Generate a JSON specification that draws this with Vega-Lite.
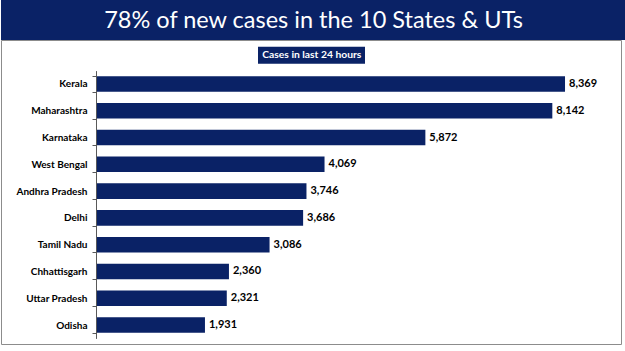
{
  "$schema": "https://vega.github.io/schema/vega-lite/v6.json",
  "padding": 0,
  "background": "white",
  "spacing": 0,
  "bounds": "flush",
  "config": {"view": {"stroke": null}, "font": "Lato"},
  "vconcat": [
    {
      "width": 625,
      "height": 40,
      "view": {"fill": "#0a2266", "stroke": null},
      "data": {"values": [{"heading": "78% of new cases in the 10 States & UTs"}]},
      "mark": {"type": "text", "color": "white", "fontSize": 23.5, "font": "Lato", "baseline": "middle", "align": "center", "dy": 1},
      "encoding": {"text": {"field": "heading"}}
    },
    {
      "width": 620,
      "height": 304,
      "view": {"fill": "white", "stroke": "#8c8c8c", "strokeWidth": 1},
      "data": {
        "values": [
          {"state": "Kerala", "cases": 8369, "series": "Cases in last 24 hours"},
          {"state": "Maharashtra", "cases": 8142, "series": "Cases in last 24 hours"},
          {"state": "Karnataka", "cases": 5872, "series": "Cases in last 24 hours"},
          {"state": "West Bengal", "cases": 4069, "series": "Cases in last 24 hours"},
          {"state": "Andhra Pradesh", "cases": 3746, "series": "Cases in last 24 hours"},
          {"state": "Delhi", "cases": 3686, "series": "Cases in last 24 hours"},
          {"state": "Tamil Nadu", "cases": 3086, "series": "Cases in last 24 hours"},
          {"state": "Chhattisgarh", "cases": 2360, "series": "Cases in last 24 hours"},
          {"state": "Uttar Pradesh", "cases": 2321, "series": "Cases in last 24 hours"},
          {"state": "Odisha", "cases": 1931, "series": "Cases in last 24 hours"}
        ]
      },
      "encoding": {
        "y": {
          "field": "state",
          "type": "nominal",
          "sort": null,
          "scale": {"range": [30.6, 298.4], "paddingInner": 0.42, "paddingOuter": 0.21},
          "axis": {
            "orient": "left",
            "offset": -95,
            "title": null,
            "tickBand": "extent",
            "tickSize": 4,
            "tickColor": "#595959",
            "domainColor": "#595959",
            "labelPadding": 5,
            "labelFont": "Lato",
            "labelFontWeight": "bold",
            "labelFontSize": 10,
            "labelColor": "black",
            "grid": false
          }
        },
        "x": {
          "field": "cases",
          "type": "quantitative",
          "stack": null,
          "scale": {"domain": [-1716, 9370], "nice": false},
          "axis": null
        }
      },
      "layer": [
        {
          "mark": {"type": "bar"},
          "encoding": {
            "color": {
              "field": "series",
              "type": "nominal",
              "scale": {"range": ["#0a2266"]},
              "legend": {
                "orient": "none",
                "legendX": 257,
                "legendY": 46.7,
                "title": null,
                "fillColor": "#0a2266",
                "strokeColor": null,
                "padding": 3,
                "symbolSize": 0,
                "symbolStrokeWidth": 0,
                "symbolOpacity": 0,
                "labelOffset": -9,
                "labelColor": "white",
                "labelFont": "Lato",
                "labelFontWeight": "bold",
                "labelFontSize": 10.3
              }
            }
          }
        },
        {
          "mark": {"type": "text", "align": "left", "baseline": "middle", "dx": 4, "fontWeight": "bold", "fontSize": 11, "color": "black"},
          "encoding": {"text": {"field": "cases", "format": ",d"}}
        }
      ]
    }
  ]
}
